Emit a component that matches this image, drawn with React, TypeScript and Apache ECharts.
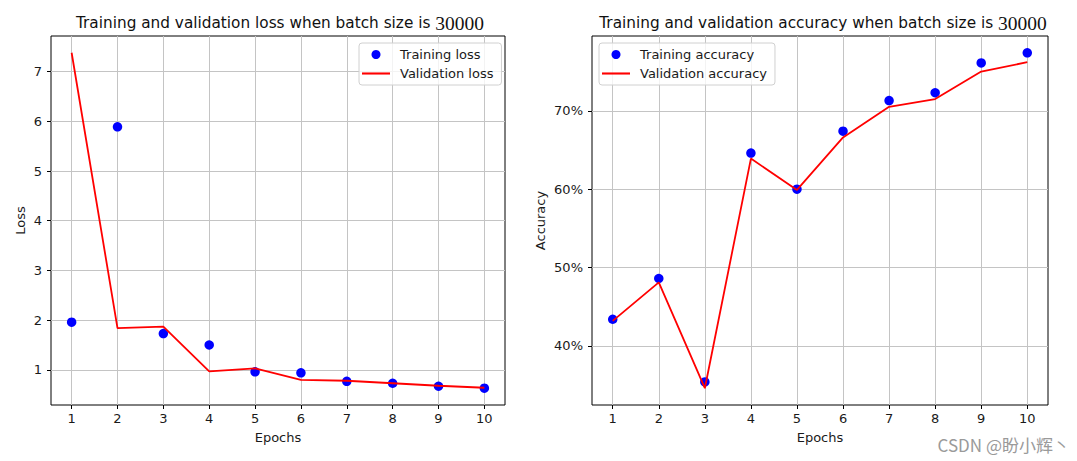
import React, { useEffect, useRef } from "react";
import * as echarts from "echarts";

const epochs = [1, 2, 3, 4, 5, 6, 7, 8, 9, 10];
const trainLoss = [1.96, 5.89, 1.73, 1.5, 0.96, 0.94, 0.77, 0.73, 0.67, 0.63];
const valLoss = [7.38, 1.84, 1.87, 0.97, 1.03, 0.8, 0.78, 0.73, 0.68, 0.64];
const trainAcc = [43.4, 48.6, 35.4, 64.6, 60.0, 67.4, 71.3, 72.3, 76.1, 77.4];
const valAcc = [43.2, 48.1, 34.6, 63.9, 59.9, 66.6, 70.5, 71.5, 75.0, 76.2];
const lossTicks = [1, 2, 3, 4, 5, 6, 7];
const accTicks = [40, 50, 60, 70];

const FONT = "DejaVu Sans";
const TXT = "#1a1a1a";
const FS = 13;

function pad(min: number, max: number) {
  const m = (max - min) * 0.05;
  return [min - m, max + m];
}

export default function App() {
  const ref = useRef<HTMLDivElement>(null);
  useEffect(() => {
    if (!ref.current) return;
    const chart = echarts.init(ref.current, null, { renderer: "svg" });
    const [xMin, xMax] = pad(1, 10);
    const [lMin, lMax] = pad(Math.min(...trainLoss, ...valLoss), Math.max(...trainLoss, ...valLoss));
    const [aMin, aMax] = pad(Math.min(...trainAcc, ...valAcc), Math.max(...trainAcc, ...valAcc));
    const pairs = (ys: number[]) => epochs.map((e, i) => [e, ys[i]]);

    const xAxisBase = (gridIndex: number) => ({
      type: "value",
      gridIndex,
      min: xMin,
      max: xMax,
      name: "Epochs",
      nameLocation: "middle",
      nameGap: 26,
      nameTextStyle: { fontFamily: FONT, fontSize: FS, color: TXT },
      axisLine: { show: false },
      axisTick: { show: true, length: 4, customValues: epochs, lineStyle: { color: "#000", width: 1 } },
      axisLabel: { customValues: epochs, fontFamily: FONT, fontSize: FS, color: TXT, margin: 7 },
      splitLine: { show: true, lineStyle: { color: "#c4c4c4", width: 1 } },
    });

    const titleStyle = {
      fontFamily: FONT,
      fontSize: 15.3,
      fontWeight: "normal",
      color: "#111",
      rich: { n: { fontFamily: "Liberation Serif", fontSize: 19.5, color: "#111" } },
    };

    const legendBase = {
      top: 43,
      orient: "vertical",
      itemWidth: 28,
      itemHeight: 9,
      itemGap: 6,
      padding: [5, 8, 5, 3],
      backgroundColor: "rgba(255,255,255,0.8)",
      borderColor: "#d0d0d0",
      borderWidth: 1,
      borderRadius: 3,
      textStyle: { fontFamily: FONT, fontSize: FS, color: TXT, padding: [0, 0, 0, 5] },
    };

    const option = {
      animation: false,
      backgroundColor: "#fff",
      title: [
        {
          text: "Training and validation loss when batch size is {n|30000}",
          left: 275,
          top: 8,
          textAlign: "center",
          textStyle: titleStyle,
        },
        {
          text: "Training and validation accuracy when batch size is {n|30000}",
          left: 818,
          top: 8,
          textAlign: "center",
          textStyle: titleStyle,
        },
        {
          text: "CSDN @盼小辉丶",
          right: 2,
          top: 431,
          textStyle: {
            fontFamily: "Noto Sans CJK SC",
            fontSize: 17,
            fontWeight: "normal",
            color: "#9a9a9a",
          },
        },
      ],
      grid: [
        { left: 51, top: 36, width: 454, height: 369, show: true, borderColor: "#000", borderWidth: 1, backgroundColor: "transparent" },
        { left: 592, top: 36, width: 456, height: 369, show: true, borderColor: "#000", borderWidth: 1, backgroundColor: "transparent" },
      ],
      legend: [
        {
          ...legendBase,
          left: 359,
          data: [
            { name: "Training loss", icon: "circle" },
            { name: "Validation loss", icon: "path://M0 0H40V3H0Z" },
          ],
        },
        {
          ...legendBase,
          left: 599,
          data: [
            { name: "Training accuracy", icon: "circle" },
            { name: "Validation accuracy", icon: "path://M0 0H40V3H0Z" },
          ],
        },
      ],
      xAxis: [xAxisBase(0), xAxisBase(1)],
      yAxis: [
        {
          type: "value",
          gridIndex: 0,
          min: lMin,
          max: lMax,
          name: "Loss",
          nameLocation: "middle",
          nameRotate: 90,
          nameGap: 24,
          nameTextStyle: { fontFamily: FONT, fontSize: FS, color: TXT },
          axisLine: { show: false },
          axisTick: { show: true, length: 4, customValues: lossTicks, lineStyle: { color: "#000", width: 1 } },
          axisLabel: { customValues: lossTicks, fontFamily: FONT, fontSize: FS, color: TXT, margin: 9 },
          splitLine: { show: true, lineStyle: { color: "#c4c4c4", width: 1 } },
        },
        {
          type: "value",
          gridIndex: 1,
          min: aMin,
          max: aMax,
          name: "Accuracy",
          nameLocation: "middle",
          nameRotate: 90,
          nameGap: 45,
          nameTextStyle: { fontFamily: FONT, fontSize: FS, color: TXT },
          axisLine: { show: false },
          axisTick: { show: true, length: 4, customValues: accTicks, lineStyle: { color: "#000", width: 1 } },
          axisLabel: { customValues: accTicks, formatter: "{value}%", fontFamily: FONT, fontSize: FS, color: TXT, margin: 9 },
          splitLine: { show: true, lineStyle: { color: "#c4c4c4", width: 1 } },
        },
      ],
      series: [
        {
          name: "Training loss",
          type: "scatter",
          xAxisIndex: 0,
          yAxisIndex: 0,
          symbol: "circle",
          symbolSize: 9.5,
          itemStyle: { color: "#0000ff", opacity: 1 },
          data: pairs(trainLoss),
          z: 3,
        },
        {
          name: "Validation loss",
          type: "line",
          xAxisIndex: 0,
          yAxisIndex: 0,
          symbol: "none",
          lineStyle: { color: "#ff0000", width: 1.8 },
          itemStyle: { color: "#ff0000" },
          data: pairs(valLoss),
          z: 4,
        },
        {
          name: "Training accuracy",
          type: "scatter",
          xAxisIndex: 1,
          yAxisIndex: 1,
          symbol: "circle",
          symbolSize: 9.5,
          itemStyle: { color: "#0000ff", opacity: 1 },
          data: pairs(trainAcc),
          z: 3,
        },
        {
          name: "Validation accuracy",
          type: "line",
          xAxisIndex: 1,
          yAxisIndex: 1,
          symbol: "none",
          lineStyle: { color: "#ff0000", width: 1.8 },
          itemStyle: { color: "#ff0000" },
          data: pairs(valAcc),
          z: 4,
        },
      ],
    };
    chart.setOption(option as any);
    return () => chart.dispose();
  }, []);
  return (
    <div
      ref={ref}
      style={{ position: "absolute", left: 0, top: 0, width: 1077, height: 461 }}
    />
  );
}
